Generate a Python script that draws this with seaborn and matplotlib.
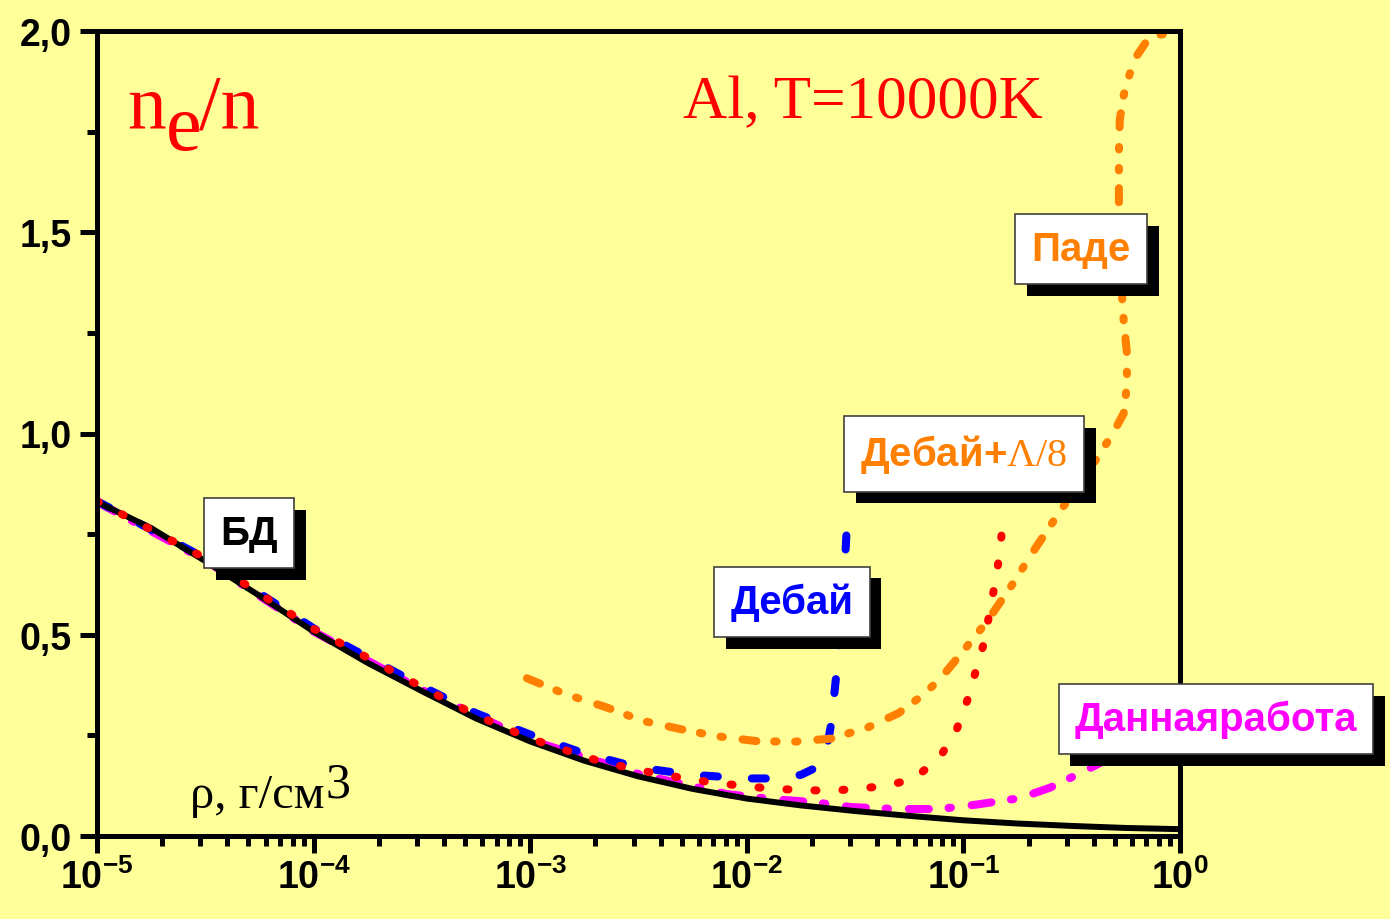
import numpy as np
import pandas as pd
import matplotlib
matplotlib.use("Agg")
import matplotlib.pyplot as plt
import matplotlib.patheffects as pe
from matplotlib.ticker import FixedLocator, FixedFormatter, LogLocator, NullFormatter, MultipleLocator
import seaborn as sns

# ---- data: log10 of density (g/cm^3) and ionization degree n_e/n ----
bd_lg = [-5.0, -4.75, -4.5, -4.25, -4.0, -3.75, -3.5, -3.25, -3.0, -2.75, -2.5,
         -2.25, -2.0, -1.75, -1.5, -1.25, -1.0, -0.75, -0.5, -0.25, 0.0]
bd_y = [0.830, 0.765, 0.683, 0.597, 0.508, 0.430, 0.360, 0.292, 0.235, 0.187, 0.148,
        0.117, 0.093, 0.076, 0.062, 0.050, 0.039, 0.031, 0.025, 0.020, 0.017]

debye_lg = [-5.0, -4.5, -4.0, -3.5, -3.25, -3.0, -2.75, -2.5, -2.25, -2.0, -1.85,
            -1.75, -1.68, -1.63, -1.61, -1.585, -1.55, -1.537]
debye_y = [0.832, 0.690, 0.516, 0.372, 0.305, 0.252, 0.205, 0.170, 0.152, 0.143, 0.143,
           0.152, 0.170, 0.220, 0.280, 0.410, 0.650, 0.780]

debye_l8_lg = [-5.0, -4.5, -4.0, -3.5, -3.25, -3.0, -2.67, -2.41, -2.15, -1.88, -1.61,
               -1.36, -1.23, -1.11, -1.03, -0.98, -0.94, -0.90, -0.877, -0.85, -0.83, -0.817]
debye_l8_y = [0.832, 0.690, 0.515, 0.370, 0.300, 0.242, 0.184, 0.154, 0.132, 0.117, 0.112,
              0.124, 0.142, 0.194, 0.266, 0.340, 0.415, 0.489, 0.564, 0.638, 0.713, 0.790]

pade_lg = [-3.015, -2.84, -2.65, -2.48, -2.31, -2.14, -1.96, -1.79, -1.61, -1.44, -1.30,
           -1.18, -1.10, -1.00, -0.89, -0.78, -0.67, -0.55, -0.43, -0.31, -0.26, -0.245,
           -0.245, -0.26, -0.275, -0.282, -0.282, -0.278, -0.26, -0.24, -0.21, -0.16, -0.10, 0.0]
pade_y = [0.392, 0.353, 0.320, 0.286, 0.266, 0.248, 0.236, 0.234, 0.242, 0.270, 0.305,
          0.353, 0.395, 0.460, 0.534, 0.620, 0.713, 0.810, 0.900, 1.000, 1.050, 1.120,
          1.200, 1.280, 1.400, 1.550, 1.700, 1.780, 1.840, 1.880, 1.930, 1.970, 1.990, 2.0]

work_lg = [-5.0, -4.5, -4.0, -3.5, -3.0, -2.5, -2.09, -1.89, -1.69, -1.52, -1.31,
           -1.11, -0.94, -0.74, -0.60, -0.45, -0.36, -0.28]
work_y = [0.830, 0.685, 0.508, 0.363, 0.238, 0.154, 0.104, 0.092, 0.084, 0.072, 0.067,
          0.067, 0.078, 0.094, 0.120, 0.159, 0.184, 0.215]

xtick_exponents = [-5, -4, -3, -2, -1, 0]
ytick_values = [0.0, 0.5, 1.0, 1.5, 2.0]
ytick_labels = ["0,0", "0,5", "1,0", "1,5", "2,0"]

# ---- style ----
BG = "#FFFF99"
sns.set_style("ticks")
plt.rcParams.update({
    "font.family": ["Liberation Sans", "DejaVu Sans"],
    "mathtext.fontset": "custom",
    "mathtext.rm": "Liberation Serif",
    "mathtext.bf": "Liberation Sans:bold",
    "mathtext.it": "Liberation Serif:italic",
    "figure.facecolor": BG,
    "axes.facecolor": BG,
    "savefig.facecolor": BG,
    "text.color": "black",
    "xtick.color": "black",
    "ytick.color": "black",
    "xtick.labelcolor": "black",
    "ytick.labelcolor": "black",
    "lines.scale_dashes": True,
})

W, H = 1390, 920
fig = plt.figure(figsize=(W / 100, H / 100), dpi=100)
ax = fig.add_axes([97 / W, 1 - 837 / H, 1083 / W, 805 / H])


def frame(lg, y, name):
    return pd.DataFrame({"rho": np.power(10.0, lg), "ne": y, "curve": name})


lw = 5.8
common = dict(ax=ax, sort=False, estimator=None, errorbar=None, legend=False)

sns.lineplot(data=frame(work_lg, work_y, "work"), x="rho", y="ne", color="#FF00FF",
             linewidth=lw, linestyle=(0, (2.48, 2.45, 0.3, 2.59)),
             dash_capstyle="round", **common)
sns.lineplot(data=frame(debye_lg, debye_y, "debye"), x="rho", y="ne", color="#0000FF",
             linewidth=lw, linestyle=(0, (1.74, 4.22)), dash_capstyle="round", **common)
sns.lineplot(data=frame(bd_lg, bd_y, "bd"), x="rho", y="ne", color="black",
             linewidth=4.3, **common)
sns.lineplot(data=frame(pade_lg, pade_y, "pade"), x="rho", y="ne", color="#FF8000",
             linewidth=lw, linestyle=(0, (1.74, 2.21, 0.3, 2.3, 0.3, 2.46)),
             dash_capstyle="round", **common)
sns.lineplot(data=frame(debye_l8_lg, debye_l8_y, "debye_l8"), x="rho", y="ne",
             color="#FF0000", linewidth=lw, linestyle=(0, (0.25, 3.23)),
             dash_capstyle="round", **common)

# ---- axes ----
ax.set_xscale("log")
ax.set_xlim(1e-5, 1.0)
ax.set_ylim(0.0, 2.0)
ax.set_xlabel("")
ax.set_ylabel("")

ax.xaxis.set_major_locator(FixedLocator([10.0 ** e for e in xtick_exponents]))
ax.xaxis.set_major_formatter(FixedFormatter(
    [r"$\mathbf{10^{%d}}$" % e for e in xtick_exponents]))
ax.xaxis.set_minor_locator(LogLocator(base=10, subs=np.arange(2, 10), numticks=20))
ax.xaxis.set_minor_formatter(NullFormatter())

ax.yaxis.set_major_locator(FixedLocator(ytick_values))
ax.yaxis.set_major_formatter(FixedFormatter(ytick_labels))
ax.yaxis.set_minor_locator(MultipleLocator(0.25))

for side in ["left", "right", "top", "bottom"]:
    ax.spines[side].set_visible(True)
    ax.spines[side].set_linewidth(3.6)
    ax.spines[side].set_color("black")

ax.tick_params(which="major", direction="out", length=12, width=3.6, color="black",
               labelsize=27, labelcolor="black", pad=6)
ax.tick_params(which="minor", direction="out", length=7.5, width=3.6, color="black")
ax.tick_params(axis="x", which="major", pad=4)
for lab in ax.get_yticklabels():
    lab.set_fontweight("bold")


# ---- annotations ----
def at(px, py):
    return dict(x=px / W, y=1 - py / H, transform=fig.transFigure)


serif = ["Liberation Serif", "DejaVu Serif"]
fig.text(s="n", color="red", fontsize=56, family=serif, va="baseline", ha="left", **at(127, 128))
fig.text(s="e", color="red", fontsize=58, family=serif, va="baseline", ha="left", **at(166, 150))
fig.text(s="/n", color="red", fontsize=56, family=serif, va="baseline", ha="left", **at(199, 128))
fig.text(s="Al, T=10000K", color="red", fontsize=44, family=serif, va="baseline",
         ha="left", **at(683, 118))
fig.text(s="ρ, г/см", color="black", fontsize=35, family=serif, va="baseline",
         ha="left", **at(190, 808))
fig.text(s="3", color="black", fontsize=36, family=serif, va="baseline",
         ha="left", **at(326, 797))


def tag(px, py, text, color):
    t = fig.text(s=text, color=color, fontsize=29, fontweight="bold", ha="center",
                 va="center", zorder=5,
                 bbox=dict(boxstyle="square,pad=0.4", facecolor="white",
                           edgecolor="#404040", linewidth=1.2),
                 **at(px, py))
    t.get_bbox_patch().set_path_effects(
        [pe.SimplePatchShadow(offset=(8.5, -8.5), shadow_rgbFace="black", alpha=1.0),
         pe.Normal()])
    return t


tag(249, 534, "БД", "black")
tag(792, 603, "Дебай", "#0000FF")
tag(964, 455, r"Дебай+$\mathrm{\Lambda/8}$", "#FF8000")
tag(1081, 250, "Паде", "#FF8000")
tag(1216, 720, "Даннаяработа", "#FF00FF")

fig.savefig("out.png", dpi=100)
